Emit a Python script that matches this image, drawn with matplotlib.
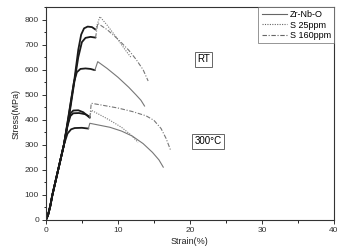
import matplotlib
matplotlib.use("Agg")
import matplotlib.pyplot as plt
from matplotlib.ticker import MultipleLocator

plt.rcParams['font.family'] = ['Liberation Sans', 'DejaVu Sans']

labels = ["Zr-Nb-O", "S 25ppm", "S 160ppm"]

# common elastic toe
toe_x = [0, 0.3, 0.6, 0.9, 1.3, 1.7, 2.1, 2.5]
toe_y = [0, 20, 55, 100, 150, 200, 250, 300]

# RT curves: pre-jump (dark) and post-jump segments
rt_zr_pre_x = toe_x + [3.0, 3.5, 3.9, 4.3, 4.8, 5.5, 6.2, 6.8]
rt_zr_pre_y = toe_y + [390, 480, 550, 590, 603, 605, 603, 598]
rt_zr_post_x = [6.8, 7.2, 8.5, 10.0, 11.5, 12.5, 13.2, 13.7]
rt_zr_post_y = [598, 632, 605, 570, 530, 500, 478, 455]

rt_s25_pre_x = toe_x + [3.2, 4.0, 4.5, 4.9, 5.3, 5.8, 6.4, 6.9]
rt_s25_pre_y = toe_y + [420, 570, 680, 740, 765, 772, 770, 760]
rt_s25_post_x = [6.9, 7.5, 8.5, 9.5, 10.5, 11.2, 11.8]
rt_s25_post_y = [760, 812, 778, 740, 700, 672, 650]

rt_s160_pre_x = toe_x + [3.2, 4.0, 4.5, 5.0, 5.5, 6.2, 6.9]
rt_s160_pre_y = toe_y + [410, 560, 650, 710, 727, 731, 728]
rt_s160_post_x = [6.9, 7.2, 8.5, 10.0, 11.5, 12.5, 13.5, 14.2]
rt_s160_post_y = [728, 785, 760, 722, 678, 642, 600, 555]

# 300 C curves
ht_zr_pre_x = toe_x + [3.0, 3.5, 4.0, 5.0, 5.9]
ht_zr_pre_y = toe_y + [345, 362, 367, 368, 365]
ht_zr_post_x = [5.9, 6.1, 7.5, 8.9, 10.5, 12.0, 13.5, 14.8, 15.7, 16.3]
ht_zr_post_y = [365, 386, 378, 370, 355, 335, 305, 270, 240, 211]

ht_s25_pre_x = toe_x + [3.0, 3.4, 3.8, 4.6, 5.5, 6.1]
ht_s25_pre_y = toe_y + [375, 415, 426, 427, 422, 412]
ht_s25_post_x = [6.1, 6.3, 7.5, 8.9, 10.5, 11.8, 12.8]
ht_s25_post_y = [412, 438, 420, 398, 370, 340, 310]

ht_s160_pre_x = toe_x + [3.0, 3.4, 3.8, 4.5, 5.2, 6.1]
ht_s160_pre_y = toe_y + [380, 425, 437, 438, 430, 408]
ht_s160_post_x = [6.1, 6.3, 7.5, 10.0, 12.0, 13.9, 15.0, 16.0, 16.7, 17.3]
ht_s160_post_y = [408, 466, 460, 447, 433, 416, 398, 365, 325, 280]

styles = ['-', (0, (1, 1.2)), (0, (4, 1.5, 1, 1.5))]

fig = plt.figure(figsize=(3.4, 2.52), dpi=100)
ax = fig.add_axes([0.135, 0.127, 0.847, 0.845])

pre = [(rt_zr_pre_x, rt_zr_pre_y), (rt_s25_pre_x, rt_s25_pre_y), (rt_s160_pre_x, rt_s160_pre_y),
       (ht_zr_pre_x, ht_zr_pre_y), (ht_s25_pre_x, ht_s25_pre_y), (ht_s160_pre_x, ht_s160_pre_y)]
post = [(rt_zr_post_x, rt_zr_post_y, 0), (rt_s25_post_x, rt_s25_post_y, 1), (rt_s160_post_x, rt_s160_post_y, 2),
        (ht_zr_post_x, ht_zr_post_y, 0), (ht_s25_post_x, ht_s25_post_y, 1), (ht_s160_post_x, ht_s160_post_y, 2)]

for x, y in pre:
    ax.plot(x, y, color='#1a1a1a', lw=1.3, solid_capstyle='round')
for x, y, k in post:
    ax.plot(x, y, color='#777777', lw=0.8, linestyle=styles[k])

handles = [plt.Line2D([], [], color='#666666', lw=0.8, linestyle=s) for s in styles]
leg = ax.legend(handles, labels, loc='upper right', fontsize=6.5, frameon=True, fancybox=False,
                borderaxespad=0, handlelength=2.8, handletextpad=0.3, borderpad=0.35,
                labelspacing=0.15)
leg.get_frame().set_edgecolor('#666666')
leg.get_frame().set_linewidth(0.6)

ax.text(21.9, 641, "RT", fontsize=7, ha='center', va='center',
        bbox=dict(boxstyle='square,pad=0.25', fc='white', ec='#666666', lw=0.7))
ax.text(22.5, 315, "300°C", fontsize=7, ha='center', va='center',
        bbox=dict(boxstyle='square,pad=0.25', fc='white', ec='#666666', lw=0.7))

ax.set_xlim(0, 40)
ax.set_ylim(0, 850)
ax.xaxis.set_major_locator(MultipleLocator(10))
ax.xaxis.set_minor_locator(MultipleLocator(5))
ax.yaxis.set_major_locator(MultipleLocator(100))
ax.yaxis.set_minor_locator(MultipleLocator(50))
ax.tick_params(which='major', direction='out', length=3, width=0.7, labelsize=6, pad=2, colors='#333333')
ax.tick_params(which='minor', direction='out', length=1.8, width=0.6)
for s in ax.spines.values():
    s.set_linewidth(0.8)
    s.set_color('#333333')

ax.set_xlabel("Strain(%)", fontsize=6.5, labelpad=2, color='#222222')
ax.set_ylabel("Stress(MPa)", fontsize=6.5, labelpad=3, color='#222222')

fig.savefig("out.png", dpi=100)
